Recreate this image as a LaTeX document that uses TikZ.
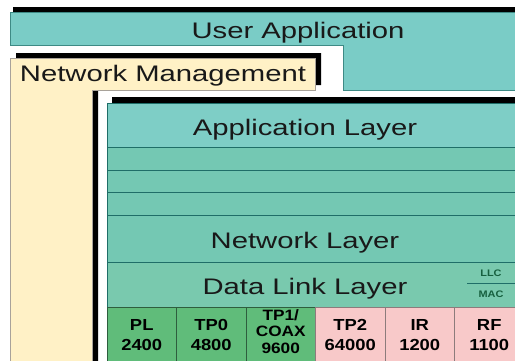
\documentclass[tikz,border=0pt]{standalone}
\usepackage{fontspec}
\setmainfont{Liberation Sans}
\newfontfamily\widefont[FakeStretch=1.3]{Liberation Sans}
\newfontfamily\cellfont[FakeStretch=1.15]{Liberation Sans}
\usepackage{tikz}

\definecolor{usrteal}{HTML}{7ACCC6}
\definecolor{usredge}{HTML}{3E8A85}
\definecolor{mgmttan}{HTML}{FFF1C6}
\definecolor{mgmtedge}{HTML}{A8A29A}
\definecolor{appteal}{HTML}{7ECEC6}
\definecolor{rowteal}{HTML}{74C8B3}
\definecolor{dlteal}{HTML}{79C9AE}
\definecolor{rowline}{HTML}{1F6E68}
\definecolor{cellgreen}{HTML}{60BC7A}
\definecolor{cellpink}{HTML}{F8C9C9}
\definecolor{greenedge}{HTML}{2E5E3E}
\definecolor{pinkedge}{HTML}{8C7C7C}
\definecolor{llcgreen}{HTML}{17603F}

\tikzset{
  layer/.style={draw=rowline,line width=1.1pt,anchor=north west,minimum width=430pt,inner sep=0pt},
  biglabel/.style={font=\widefont\fontsize{22.5}{27}\selectfont,text=black!90,inner sep=0pt,text height=16pt,text depth=0pt},
  smalllabel/.style={font=\cellfont\bfseries\fontsize{9.5}{11}\selectfont,text=llcgreen,inner sep=0pt},
  cell/.style={line width=0.9pt,minimum width=69.5pt,minimum height=56pt,inner sep=0pt,align=center,
    font=\cellfont\bfseries\fontsize{16}{20.5}\selectfont},
  greencell/.style={cell,fill=cellgreen,draw=greenedge},
  pinkcell/.style={cell,fill=cellpink,draw=pinkedge}
}

\begin{document}
\begin{tikzpicture}[x=1pt,y=-1pt]
\useasboundingbox (0,0) rectangle (515,360);
\clip (0,0) rectangle (515,360);

% user application
\fill[black,shift={(3,-5)}] (10,12) -- (540,12) -- (540,90) -- (343,90) -- (343,45) -- (10,45) -- cycle;
\filldraw[fill=usrteal,draw=usredge,line width=1pt] (10,12) -- (540,12) -- (540,90) -- (343,90) -- (343,45) -- (10,45) -- cycle;
\node[biglabel] (usrapp) at (298,30.5) {User Application};

% network management
\fill[black,shift={(6,-5)}] (10,58) -- (315,58) -- (315,90) -- (92,90) -- (92,380) -- (10,380) -- cycle;
\filldraw[fill=mgmttan,draw=mgmtedge,line width=1pt] (10,58) -- (315,58) -- (315,90) -- (92,90) -- (92,380) -- (10,380) -- cycle;
\node[biglabel] (netmgmt) at (163,73.5) {Network Management};

% protocol stack
\fill[black] (112,97) rectangle (540,380);
\node[layer,fill=appteal,minimum height=44pt] (applayer) at (107,103) {};
\node[layer,fill=rowteal,minimum height=23pt] (row2) at (107,147) {};
\node[layer,fill=rowteal,minimum height=22pt] (row3) at (107,170) {};
\node[layer,fill=rowteal,minimum height=23pt] (row4) at (107,192) {};
\node[layer,fill=rowteal,minimum height=47pt] (netlayer) at (107,215) {};
\node[layer,fill=dlteal,minimum height=45pt] (dllayer) at (107,262) {};

\node[biglabel] (applbl) at (305,127) {Application Layer};
\node[biglabel] (netlbl) at (305,240.5) {Network Layer};
\node[biglabel] (dllbl) at (305,286.5) {Data Link Layer};

\draw[rowline,line width=1pt] (467,283) -- (540,283);
\node[smalllabel] (llc) at (491,273) {LLC};
\node[smalllabel] (mac) at (491,294) {MAC};

% media
\node[greencell] (pl) at (141.75,335) {PL\\2400};
\node[greencell] (tpzero) at (211.25,335) {TP0\\4800};
\node[greencell] (tpone) at (280.75,335) {};
\node[inner sep=0pt,align=center,font=\cellfont\bfseries\fontsize{15}{16.5}\selectfont] (tponelbl) at (280.75,331.5) {TP1/\\COAX\\9600};
\node[pinkcell] (tptwo) at (350.25,335) {TP2\\64000};
\node[pinkcell] (ir) at (419.75,335) {IR\\1200};
\node[pinkcell] (rf) at (489.25,335) {RF\\1100};
\end{tikzpicture}
\end{document}
